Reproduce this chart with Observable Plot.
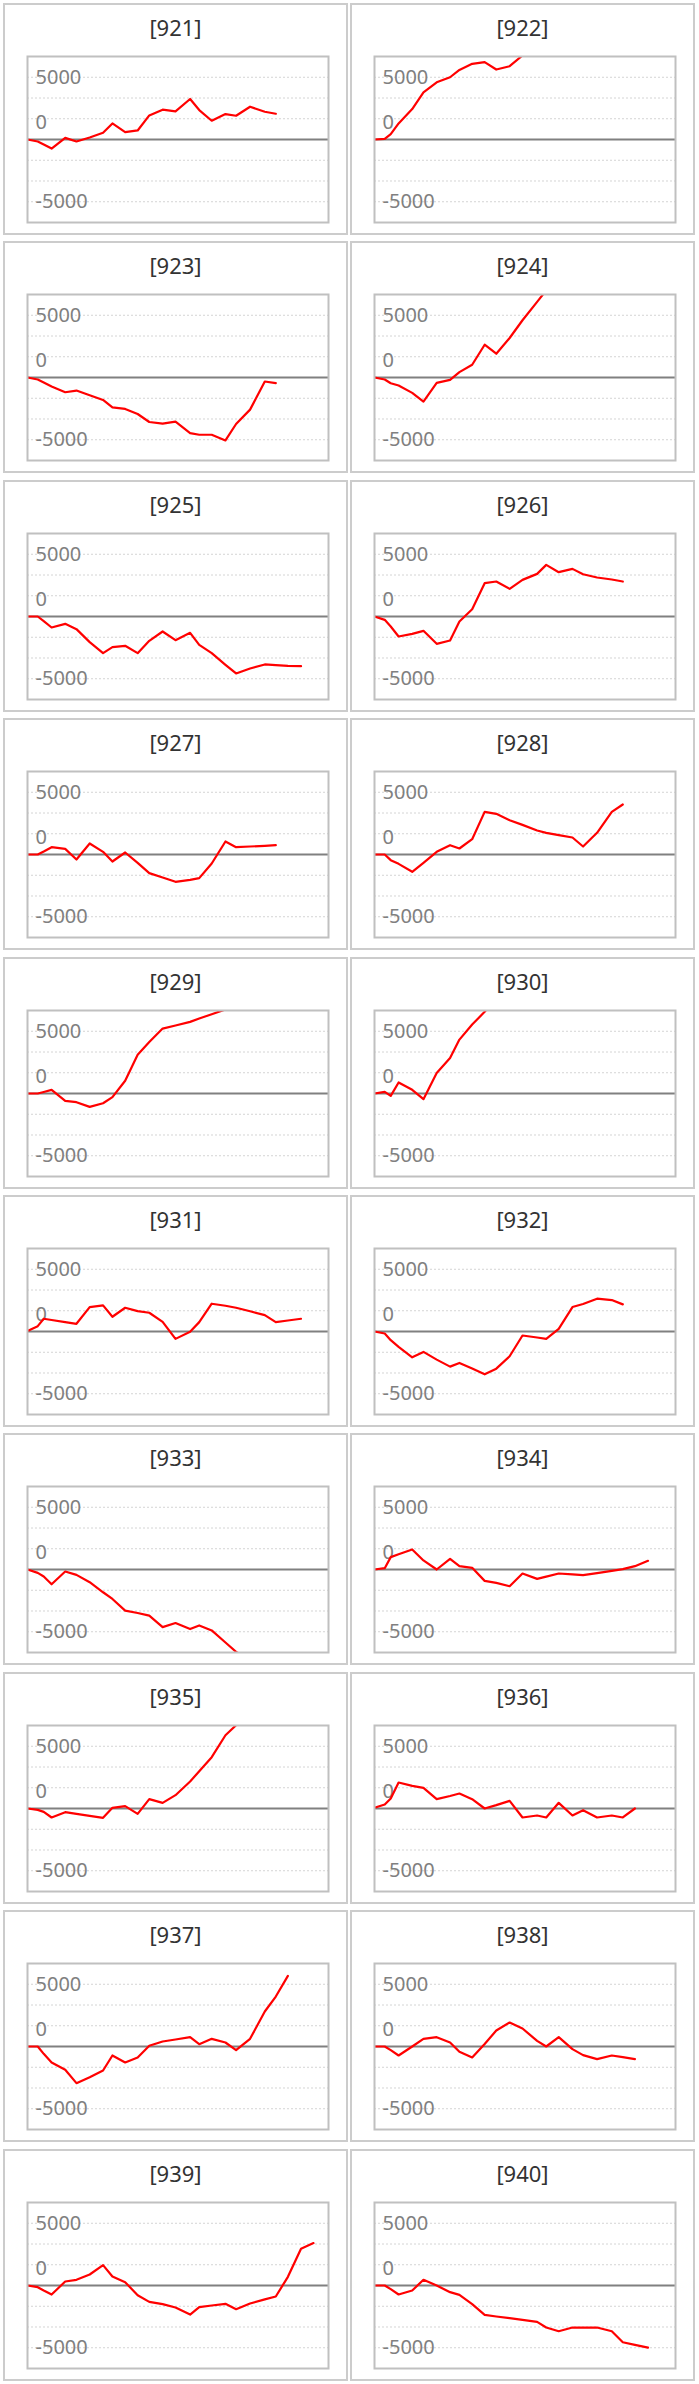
<!DOCTYPE html>
<html>
<head>
<meta charset="utf-8">
<script src="https://cdn.jsdelivr.net/npm/d3@7"></script>
<script src="https://cdn.jsdelivr.net/npm/@observablehq/plot@0.6"></script>
<style>
  html, body { margin: 0; padding: 0; background: #fff; }
  #grid { position: relative; width: 699px; height: 2384px; }
  .cell { position: absolute; width: 349px; height: 238.4px; }
  .box { position: absolute; top: 3px; height: 232px; width: 345px; box-sizing: border-box; border: 2px solid #cccccc; }
  .title { position: absolute; top: 10px; height: 34px; line-height: 34px; text-align: center;
           font-family: "Noto Sans", sans-serif; font-size: 22px; color: #333; width: 345px; }
  .chart { position: absolute; top: 46px; }
</style>
</head>
<body>
<div id="grid"></div>
<script>
// shared x positions (period positions)
const xs = [0, 0.82, 1.3, 1.93, 3.02, 3.92, 4.98, 6.05, 6.8, 7.82, 8.82, 9.75, 10.82, 11.85, 13.02, 13.75, 14.75, 15.85, 16.7, 17.82, 19.0, 19.88, 20.85, 21.9, 22.9];
const xDomain = [0, 24.1];
const yDomain = [-6667, 6667];
const yGrid = [5000, 3333, 1667, -1667, -3333, -5000];
const yLabelValues = [5000, -5000];
const yLabelTexts = ["5000", "-5000"];
const zeroLabel = "0";

const panelIds = [921, 922, 923, 924, 925, 926, 927, 928, 929, 930, 931, 932, 933, 934, 935, 936, 937, 938, 939, 940];

const s921 = [0, -161, -396, -726, 134, -161, 161, 538, 1290, 591, 726, 1936, 2393, 2258, 3253, 2366, 1506, 2043, 1909, 2634, 2231, 2070];
const s922 = [0, 54, 430, 1290, 2446, 3791, 4598, 5001, 5592, 6076, 6211, 5619, 5888, 6750, 7500, 8000];
const s923 = [0, -161, -400, -726, -1183, -1049, -1425, -1801, -2393, -2527, -2930, -3576, -3710, -3549, -4463, -4598, -4598, -5055, -3737, -2581, -323, -457];
const s924 = [0, -161, -457, -645, -1237, -1936, -430, -188, 430, 1022, 2634, 1909, 3173, 4598, 6076, 7000, 8000];
const s925 = [0, 0, -370, -883, -589, -1016, -2060, -2943, -2462, -2355, -2943, -1953, -1204, -1900, -1311, -2274, -2943, -3880, -4575, -4174, -3853, -3907, -3960, -3987];
const s926 = [0, -268, -803, -1605, -1391, -1150, -2194, -1927, -401, 589, 2676, 2810, 2221, 2943, 3425, 4148, 3559, 3826, 3398, 3131, 2970, 2810];
const s927 = [0, 0, 247, 589, 455, -401, 883, 214, -562, 161, -669, -1498, -1846, -2194, -2033, -1900, -722, 1044, 589, 642, 696, 749];
const s928 = [0, 0, -455, -749, -1391, -669, 214, 749, 482, 1231, 3425, 3264, 2756, 2381, 1927, 1740, 1552, 1364, 642, 1740, 3425, 4014];
const s929 = [0, 0, 124, 296, -592, -699, -1075, -780, -296, 1022, 3119, 4140, 5216, 5458, 5754, 6022, 6371, 6747, 7150, 7500];
const s930 = [0, 134, -188, 887, 296, -457, 1640, 2850, 4329, 5539, 6561, 7700, 8800];
const s931 = [50, 430, 1022, 922, 755, 618, 1963, 2097, 1183, 1909, 1640, 1506, 780, -592, -27, 753, 2231, 2070, 1909, 1626, 1317, 753, 885, 1022];
const s932 = [0, -161, -699, -1237, -2070, -1640, -2258, -2823, -2527, -2974, -3441, -2984, -1990, -323, -484, -591, 215, 1963, 2205, 2634, 2527, 2178];
const s933 = [0, -269, -565, -1183, -161, -430, -1022, -1828, -2366, -3307, -3495, -3710, -4625, -4302, -4786, -4490, -4893, -5861, -6614, -7300, -8000];
const s934 = [0, 108, 995, 1218, 1613, 726, 0, 860, 269, 134, -914, -1075, -1344, -323, -753, -575, -323, -393, -457, -290, -108, 27, 269, 699];
const s935 = [0, -107, -268, -722, -294, -428, -589, -749, 54, 187, -428, 749, 455, 1070, 2167, 2997, 4121, 5887, 6690, 7500, 8500];
const s936 = [54, 321, 803, 2087, 1820, 1659, 749, 1001, 1204, 749, 0, 268, 615, -722, -562, -722, 455, -562, -134, -722, -562, -722, 0];
const s937 = [0, 0, -589, -1284, -1873, -2943, -2462, -1927, -722, -1284, -883, 54, 401, 562, 749, 187, 615, 321, -294, 615, 2810, 4014, 5673];
const s938 = [0, 0, -294, -722, 0, 615, 749, 321, -428, -883, 201, 1284, 1927, 1445, 455, 0, 749, -214, -696, -1017, -722, -856, -1017];
const s939 = [0, -134, -402, -724, 322, 456, 884, 1635, 724, 268, -777, -1313, -1501, -1769, -2332, -1742, -1608, -1474, -1903, -1447, -1110, -884, 697, 2948, 3404];
const s940 = [0, 0, -295, -724, -402, 456, 0, -536, -750, -1501, -2358, -2492, -2626, -2760, -2921, -3377, -3672, -3377, -3377, -3377, -3672, -4556, -4770, -4985];

const seriesList = [s921, s922, s923, s924, s925, s926, s927, s928, s929, s930,
                    s931, s932, s933, s934, s935, s936, s937, s938, s939, s940];

const grid = document.getElementById("grid");
const rowH = 238.4;

panelIds.forEach((id, k) => {
  const col = k % 2, row = Math.floor(k / 2);
  const cell = document.createElement("div");
  cell.className = "cell";
  cell.style.top = (row * rowH) + "px";
  cell.style.left = (col === 0 ? 0 : 347) + "px";
  const boxLeft = 3;
  const box = document.createElement("div");
  box.className = "box";
  box.style.left = boxLeft + "px";
  cell.appendChild(box);
  const title = document.createElement("div");
  title.className = "title";
  title.style.left = boxLeft + "px";
  title.textContent = "[" + id + "]";
  cell.appendChild(title);

  const vals = seriesList[k];
  const data = vals.map((v, i) => ({x: xs[i], y: v}));
  const labels = yLabelValues.map((v, i) => ({v, t: yLabelTexts[i]}));

  const chart = Plot.plot({
    width: 345,
    height: 186,
    marginLeft: 24,
    marginRight: 20,
    marginTop: 10,
    marginBottom: 10,
    x: {domain: xDomain, axis: null},
    y: {domain: yDomain, axis: null},
    style: {fontFamily: "Noto Sans, sans-serif", background: "transparent"},
    marks: [
      Plot.gridY(yGrid, {stroke: "#d4d4d4", strokeOpacity: 1, strokeWidth: 1, strokeDasharray: "2,2"}),
      Plot.ruleY([0], {stroke: "#808080", strokeWidth: 2}),
      Plot.text(labels, {y: "v", text: "t", frameAnchor: "left", dx: 8, textAnchor: "start", fontSize: 20, fill: "#808080"}),
      Plot.text([{v: 0, t: zeroLabel}], {y: "v", text: "t", frameAnchor: "left", dx: 8, dy: -17, textAnchor: "start", fontSize: 20, fill: "#808080"}),
      Plot.line(data, {x: "x", y: "y", stroke: "#ff0000", strokeWidth: 2.2, strokeLinejoin: "round", clip: true}),
      Plot.frame({stroke: "#c0c0c0", strokeWidth: 2})
    ]
  });
  const wrap = document.createElement("div");
  wrap.className = "chart";
  wrap.style.left = boxLeft + "px";
  wrap.appendChild(chart);
  cell.appendChild(wrap);
  grid.appendChild(cell);
});
</script>
</body>
</html>
